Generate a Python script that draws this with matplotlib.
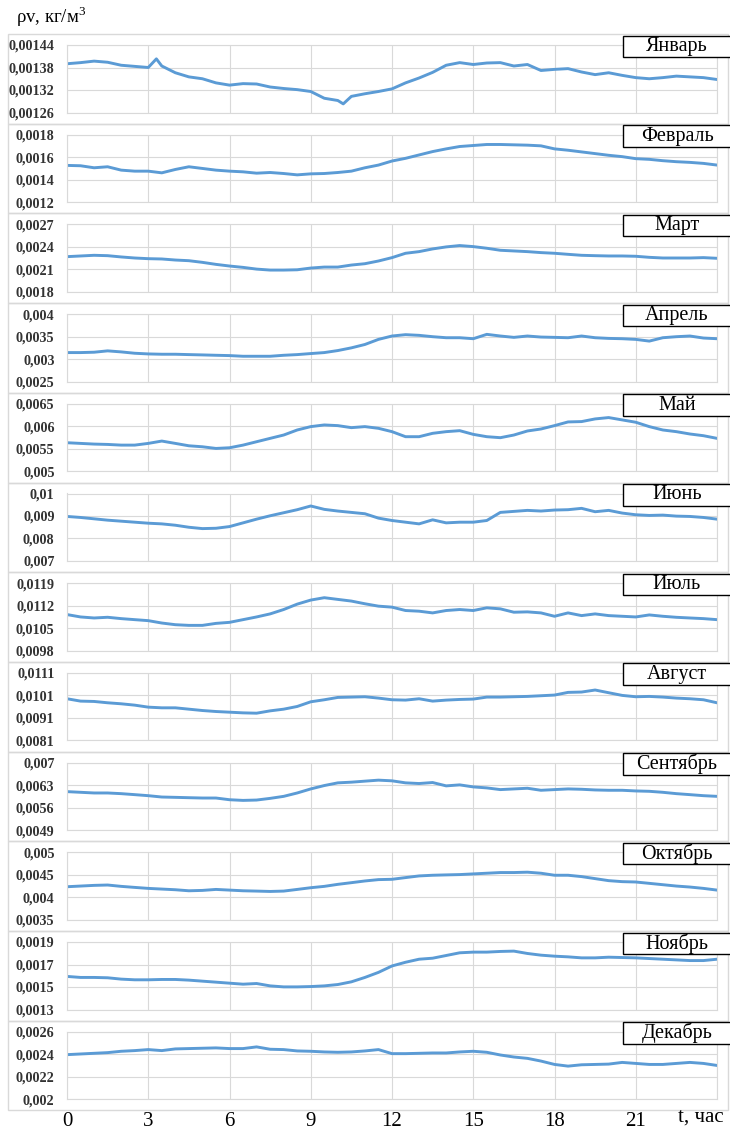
import numpy as np
import matplotlib
matplotlib.use('Agg')
import matplotlib.pyplot as plt
from matplotlib.patches import Rectangle

plt.rcParams['font.family'] = ['Liberation Serif', 'DejaVu Serif']
plt.rcParams['mathtext.fontset'] = 'stix'

# ---------------- data ----------------
month_names = ['Январь', 'Февраль', 'Март', 'Апрель', 'Май', 'Июнь',
               'Июль', 'Август', 'Сентябрь', 'Октябрь', 'Ноябрь', 'Декабрь']

hours = np.arange(0, 24.5, 0.5)

jan_hours = [0, 0.5, 1, 1.5, 2, 2.5, 3, 3.3, 3.5, 4, 4.5, 5, 5.5, 6, 6.5, 7, 7.5,
             8, 8.5, 9, 9.5, 10, 10.2, 10.5, 11, 11.5, 12, 12.5, 13, 13.5, 14,
             14.5, 15, 15.5, 16, 16.5, 17, 17.5, 18, 18.5, 19, 19.5, 20, 20.5,
             21, 21.5, 22, 22.5, 23, 23.5, 24]
jan = [0.001390, 0.001393, 0.001397, 0.001394, 0.001386, 0.001383, 0.001380,
       0.001403, 0.001384, 0.001366, 0.001355, 0.001350, 0.001339, 0.001333,
       0.001337, 0.001336, 0.001328, 0.001324, 0.001321, 0.001316, 0.001298,
       0.001292, 0.001283, 0.001303, 0.001310, 0.001316, 0.001323, 0.001339,
       0.001352, 0.001367, 0.001386, 0.001393, 0.001388, 0.001392, 0.001393,
       0.001384, 0.001388, 0.001372, 0.001375, 0.001377, 0.001368, 0.001361,
       0.001366, 0.001359, 0.001353, 0.001350, 0.001353, 0.001357, 0.001355,
       0.001353, 0.001348]

feb = [0.001527, 0.001524, 0.001506, 0.001515, 0.001485, 0.001476,
       0.001476, 0.001461, 0.001491, 0.001515, 0.001500, 0.001485,
       0.001476, 0.001470, 0.001458, 0.001464, 0.001455, 0.001443,
       0.001452, 0.001455, 0.001464, 0.001476, 0.001506, 0.001530,
       0.001566, 0.001590, 0.001620, 0.001650, 0.001674, 0.001695,
       0.001704, 0.001713, 0.001713, 0.001710, 0.001707, 0.001701,
       0.001674, 0.001662, 0.001647, 0.001632, 0.001617, 0.001605,
       0.001587, 0.001581, 0.001569, 0.001560, 0.001554, 0.001545,
       0.001530]

mar = [0.002270, 0.002279, 0.002288, 0.002283, 0.002266, 0.002252,
       0.002243, 0.002239, 0.002225, 0.002216, 0.002194, 0.002167,
       0.002145, 0.002127, 0.002104, 0.002091, 0.002091, 0.002095,
       0.002118, 0.002131, 0.002131, 0.002158, 0.002176, 0.002212,
       0.002257, 0.002315, 0.002337, 0.002373, 0.002400, 0.002418,
       0.002404, 0.002382, 0.002355, 0.002346, 0.002337, 0.002324,
       0.002315, 0.002301, 0.002288, 0.002283, 0.002279, 0.002279,
       0.002275, 0.002261, 0.002252, 0.002252, 0.002252, 0.002257,
       0.002248]

apr = [0.003145, 0.003145, 0.003153, 0.003183, 0.003160, 0.003130,
       0.003115, 0.003108, 0.003108, 0.003100, 0.003093, 0.003085,
       0.003078, 0.003063, 0.003063, 0.003063, 0.003085, 0.003100,
       0.003123, 0.003145, 0.003190, 0.003250, 0.003325, 0.003438,
       0.003513, 0.003543, 0.003528, 0.003498, 0.003475, 0.003475,
       0.003453, 0.003550, 0.003513, 0.003483, 0.003513, 0.003490,
       0.003483, 0.003475, 0.003513, 0.003475, 0.003460, 0.003453,
       0.003438, 0.003400, 0.003475, 0.003498, 0.003513, 0.003468,
       0.003453]

may = [0.005635, 0.005620, 0.005605, 0.005597, 0.005582, 0.005582,
       0.005620, 0.005672, 0.005620, 0.005567, 0.005545, 0.005508,
       0.005523, 0.005582, 0.005657, 0.005732, 0.005806, 0.005918,
       0.005993, 0.006030, 0.006015, 0.005970, 0.005993, 0.005955,
       0.005881, 0.005769, 0.005769, 0.005844, 0.005881, 0.005903,
       0.005821, 0.005769, 0.005747, 0.005806, 0.005896, 0.005940,
       0.006015, 0.006097, 0.006105, 0.006164, 0.006194, 0.006142,
       0.006090, 0.005993, 0.005918, 0.005881, 0.005829, 0.005791,
       0.005732]

jun = [0.008980, 0.008935, 0.008875, 0.008815, 0.008770, 0.008725,
       0.008680, 0.008650, 0.008590, 0.008500, 0.008440, 0.008455,
       0.008530, 0.008695, 0.008860, 0.009010, 0.009145, 0.009280,
       0.009445, 0.009295, 0.009220, 0.009160, 0.009100, 0.008905,
       0.008800, 0.008725, 0.008650, 0.008830, 0.008695, 0.008725,
       0.008725, 0.008800, 0.009160, 0.009205, 0.009250, 0.009220,
       0.009265, 0.009280, 0.009340, 0.009190, 0.009250, 0.009130,
       0.009055, 0.009025, 0.009040, 0.008995, 0.008980, 0.008935,
       0.008860]

jul = [0.010924, 0.010850, 0.010818, 0.010840, 0.010798, 0.010766,
       0.010735, 0.010661, 0.010609, 0.010588, 0.010588, 0.010650,
       0.010682, 0.010766, 0.010850, 0.010945, 0.011081, 0.011249,
       0.011375, 0.011449, 0.011396, 0.011344, 0.011260, 0.011186,
       0.011155, 0.011050, 0.011029, 0.010976, 0.011050, 0.011081,
       0.011050, 0.011134, 0.011102, 0.010997, 0.011008, 0.010976,
       0.010871, 0.010976, 0.010892, 0.010945, 0.010892, 0.010871,
       0.010850, 0.010913, 0.010871, 0.010839, 0.010818, 0.010798,
       0.010766]

aug = [0.009951, 0.009846, 0.009831, 0.009772, 0.009727, 0.009667,
       0.009578, 0.009548, 0.009548, 0.009488, 0.009428, 0.009384,
       0.009354, 0.009324, 0.009309, 0.009413, 0.009488, 0.009608,
       0.009816, 0.009906, 0.010010, 0.010025, 0.010040, 0.009980,
       0.009906, 0.009891, 0.009951, 0.009846, 0.009891, 0.009920,
       0.009936, 0.010025, 0.010025, 0.010040, 0.010055, 0.010085,
       0.010115, 0.010234, 0.010249, 0.010339, 0.010219, 0.010100,
       0.010040, 0.010055, 0.010025, 0.009980, 0.009951, 0.009906,
       0.009772]

sep = [0.006097, 0.006076, 0.006055, 0.006055, 0.006034, 0.006003,
       0.005971, 0.005929, 0.005919, 0.005908, 0.005898, 0.005898,
       0.005845, 0.005824, 0.005835, 0.005887, 0.005950, 0.006055,
       0.006181, 0.006286, 0.006370, 0.006391, 0.006423, 0.006454,
       0.006433, 0.006370, 0.006349, 0.006380, 0.006276, 0.006307,
       0.006244, 0.006213, 0.006160, 0.006181, 0.006202, 0.006139,
       0.006160, 0.006181, 0.006170, 0.006149, 0.006139, 0.006139,
       0.006118, 0.006107, 0.006076, 0.006034, 0.006003, 0.005971,
       0.005950]

oct_ = [0.004235, 0.004250, 0.004265, 0.004273, 0.004243, 0.004220,
        0.004198, 0.004183, 0.004168, 0.004145, 0.004153, 0.004175,
        0.004160, 0.004145, 0.004138, 0.004130, 0.004138, 0.004175,
        0.004213, 0.004243, 0.004288, 0.004325, 0.004363, 0.004393,
        0.004400, 0.004438, 0.004475, 0.004490, 0.004498, 0.004505,
        0.004520, 0.004535, 0.004550, 0.004550, 0.004558, 0.004535,
        0.004490, 0.004490, 0.004460, 0.004415, 0.004370, 0.004348,
        0.004340, 0.004310, 0.004280, 0.004250, 0.004228, 0.004198,
        0.004160]

nov = [0.001594, 0.001585, 0.001585, 0.001582, 0.001570, 0.001564,
       0.001564, 0.001567, 0.001567, 0.001561, 0.001552, 0.001543,
       0.001534, 0.001525, 0.001531, 0.001510, 0.001501, 0.001501,
       0.001504, 0.001510, 0.001522, 0.001546, 0.001585, 0.001630,
       0.001687, 0.001720, 0.001747, 0.001756, 0.001780, 0.001804,
       0.001810, 0.001810, 0.001816, 0.001819, 0.001798, 0.001783,
       0.001774, 0.001768, 0.001759, 0.001759, 0.001765, 0.001762,
       0.001759, 0.001753, 0.001747, 0.001741, 0.001735, 0.001735,
       0.001747]

dec = [0.002396, 0.002402, 0.002408, 0.002414, 0.002426, 0.002432,
       0.002441, 0.002432, 0.002447, 0.002450, 0.002453, 0.002456,
       0.002450, 0.002450, 0.002465, 0.002444, 0.002441, 0.002429,
       0.002426, 0.002420, 0.002417, 0.002420, 0.002429, 0.002441,
       0.002405, 0.002405, 0.002408, 0.002411, 0.002411, 0.002420,
       0.002426, 0.002417, 0.002393, 0.002375, 0.002363, 0.002339,
       0.002309, 0.002294, 0.002306, 0.002309, 0.002312, 0.002327,
       0.002318, 0.002309, 0.002309, 0.002318, 0.002327, 0.002318,
       0.002300]

series = [jan, feb, mar, apr, may, jun, jul, aug, sep, oct_, nov, dec]

ytick_values = [
    [0.00126, 0.00132, 0.00138, 0.00144],
    [0.0012, 0.0014, 0.0016, 0.0018],
    [0.0018, 0.0021, 0.0024, 0.0027],
    [0.0025, 0.003, 0.0035, 0.004],
    [0.005, 0.0055, 0.006, 0.0065],
    [0.007, 0.008, 0.009, 0.01],
    [0.0098, 0.0105, 0.0112, 0.0119],
    [0.0081, 0.0091, 0.0101, 0.0111],
    [0.0049, 0.0056, 0.0063, 0.007],
    [0.0035, 0.004, 0.0045, 0.005],
    [0.0013, 0.0015, 0.0017, 0.0019],
    [0.002, 0.0022, 0.0024, 0.0026],
]
ytick_labels = [
    ['0,00126', '0,00132', '0,00138', '0,00144'],
    ['0,0012', '0,0014', '0,0016', '0,0018'],
    ['0,0018', '0,0021', '0,0024', '0,0027'],
    ['0,0025', '0,003', '0,0035', '0,004'],
    ['0,005', '0,0055', '0,006', '0,0065'],
    ['0,007', '0,008', '0,009', '0,01'],
    ['0,0098', '0,0105', '0,0112', '0,0119'],
    ['0,0081', '0,0091', '0,0101', '0,0111'],
    ['0,0049', '0,0056', '0,0063', '0,007'],
    ['0,0035', '0,004', '0,0045', '0,005'],
    ['0,0013', '0,0015', '0,0017', '0,0019'],
    ['0,002', '0,0022', '0,0024', '0,0026'],
]
xtick_values = [0, 3, 6, 9, 12, 15, 18, 21, 24]
xtick_labels = ['0', '3', '6', '9', '12', '15', '18', '21', '']

# ---------------- layout ----------------
W, H = 730, 1136
fig = plt.figure(figsize=(W / 100, H / 100), dpi=100)
fig.patch.set_facecolor('white')

LINE = '#5B9BD5'
GRID = '#D9D9D9'
left_px, right_px = 67, 717
top0, pitch, ph = 45, 89.7, 67.5

def fx(px):
    return px / W

def fy(px):
    return 1 - px / H

for i, (name, vals) in enumerate(zip(month_names, series)):
    top = top0 + i * pitch
    # chart frame
    fig.add_artist(Rectangle((fx(8), fy(top - 11 + pitch)), fx(728) - fx(8), pitch / H,
                             transform=fig.transFigure, fill=False,
                             edgecolor=GRID, lw=1.0, zorder=0))
    ax = fig.add_axes([fx(left_px), fy(top + ph), (right_px - left_px) / W, ph / H])
    ax.set_facecolor('none')
    xs = jan_hours if i == 0 else hours
    ax.plot(xs, vals, color=LINE, lw=2.1, solid_joinstyle='round')
    ax.set_xlim(0, 24)
    yt = ytick_values[i]
    ax.set_ylim(yt[0], yt[-1])
    ax.set_yticks(yt)
    ax.set_yticklabels(ytick_labels[i], fontweight='bold', color='#333333')
    ax.set_xticks(xtick_values)
    if i == len(series) - 1:
        ax.set_xticklabels(xtick_labels)
        ax.tick_params(axis='x', labelsize=15, pad=9)
    else:
        ax.set_xticklabels([])
    ax.tick_params(length=0)
    ax.tick_params(axis='y', labelsize=10.2, pad=9)
    ax.grid(True, color=GRID, lw=0.8)
    ax.set_axisbelow(True)
    for s in ax.spines.values():
        s.set_color(GRID)
        s.set_linewidth(0.8)
    # month label box
    fig.add_artist(Rectangle((fx(623), fy(top + 12)), fx(745) - fx(623), 21.5 / H,
                             transform=fig.transFigure, facecolor='white',
                             edgecolor='black', lw=1.0, zorder=5))
    fig.text(fx(677), fy(top + 1.5), name, fontsize=14.5, ha='center', va='center',
             zorder=6)

fig.text(fx(701), fy(1117), 't, час', fontsize=15, ha='center', va='center')
fig.text(fx(16), fy(17), r'ρv, кг/м$^\mathregular{3}$',
         fontsize=13.5, ha='left', va='center')

fig.savefig('out.png', dpi=100)
